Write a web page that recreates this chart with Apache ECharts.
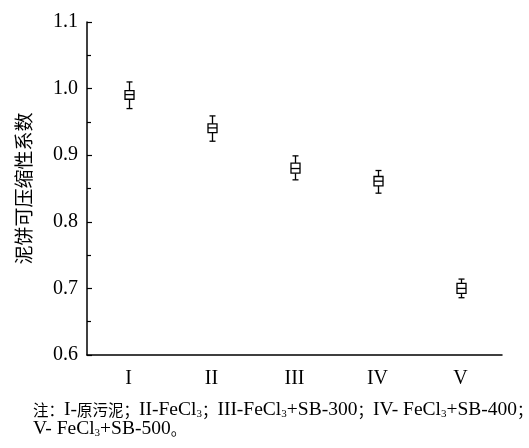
<!DOCTYPE html>
<html>
<head>
<meta charset="utf-8">
<script src="https://cdn.jsdelivr.net/npm/echarts@6/dist/echarts.min.js"></script>
<style>
html,body{margin:0;padding:0;background:#fff;}
#chart{width:529px;height:448px;}
</style>
</head>
<body>
<div id="chart"></div>
<script>
const categories = ['I', 'II', 'III', 'IV', 'V'];
const minVals = [0.970, 0.921, 0.863, 0.843, 0.686];
const q1Vals = [0.984, 0.934, 0.873, 0.854, 0.6925];
const medianVals = [0.991, 0.941, 0.880, 0.861, 0.700];
const q3Vals = [0.997, 0.947, 0.888, 0.868, 0.7075];
const maxVals = [1.010, 0.959, 0.899, 0.877, 0.714];
const yTicks = [0.6, 0.7, 0.8, 0.9, 1.0, 1.1];

const seriesData = categories.map((c, i) => [i, minVals[i], q1Vals[i], medianVals[i], q3Vals[i], maxVals[i]]);

const serif = '"Liberation Serif","Times New Roman","Noto Sans CJK SC",serif';
const cjk = '"Noto Sans CJK SC",sans-serif';

const chart = echarts.init(document.getElementById('chart'), null, {renderer: 'canvas'});

function renderItem(params, api) {
  const x = api.value(0);
  const pMin = api.coord([x, api.value(1)]);
  const pQ1 = api.coord([x, api.value(2)]);
  const pMed = api.coord([x, api.value(3)]);
  const pQ3 = api.coord([x, api.value(4)]);
  const pMax = api.coord([x, api.value(5)]);
  const cx = Math.round(pMed[0]) + 0.5;
  const bw = 4.5, cw = 3;
  const st = {stroke: '#000', lineWidth: 1.3, fill: null};
  return {
    type: 'group',
    children: [
      {type: 'line', shape: {x1: cx, y1: pMax[1], x2: cx, y2: pQ3[1]}, style: st},
      {type: 'line', shape: {x1: cx, y1: pQ1[1], x2: cx, y2: pMin[1]}, style: st},
      {type: 'line', shape: {x1: cx - cw, y1: pMax[1], x2: cx + cw, y2: pMax[1]}, style: st},
      {type: 'line', shape: {x1: cx - cw, y1: pMin[1], x2: cx + cw, y2: pMin[1]}, style: st},
      {type: 'rect', shape: {x: cx - bw, y: pQ3[1], width: bw * 2, height: pQ1[1] - pQ3[1]}, style: {stroke: '#000', lineWidth: 1.3, fill: '#fff'}},
      {type: 'line', shape: {x1: cx - bw, y1: pMed[1], x2: cx + bw, y2: pMed[1]}, style: st}
    ]
  };
}

chart.setOption({
  backgroundColor: '#fff',
  animation: false,
  grid: {left: 87, right: 27, top: 22, bottom: 93},
  xAxis: {
    type: 'category',
    data: categories,
    boundaryGap: true,
    axisLine: {lineStyle: {color: '#000', width: 1.5}},
    axisTick: {alignWithLabel: true, inside: true, length: 5, lineStyle: {color: '#000', width: 1.2}},
    axisLabel: {color: '#000', fontFamily: serif, fontSize: 20, margin: 14},
    splitLine: {show: false}
  },
  yAxis: {
    type: 'value',
    min: yTicks[0],
    max: yTicks[yTicks.length - 1],
    interval: 0.1,
    name: '泥饼可压缩性系数',
    nameLocation: 'middle',
    nameGap: 54,
    nameTextStyle: {color: '#000', fontFamily: cjk, fontSize: 19, fontWeight: 'normal'},
    axisLine: {show: true, lineStyle: {color: '#000', width: 1.5}},
    axisTick: {show: true, inside: true, length: 5, lineStyle: {color: '#000', width: 1.2}},
    minorTick: {show: true, splitNumber: 2, length: 4, lineStyle: {color: '#000', width: 1.2}},
    axisLabel: {color: '#000', fontFamily: serif, fontSize: 20, margin: 9, formatter: v => v.toFixed(1)},
    splitLine: {show: false}
  },
  series: [{
    type: 'custom',
    renderItem: renderItem,
    encode: {x: 0, y: [1, 2, 3, 4, 5]},
    data: seriesData,
    z: 5
  }],
  graphic: [{
    type: 'text',
    left: 33,
    top: 400,
    style: {
      text: '{c|注：}{t|I-}{c|原污泥；}{t|II-FeCl}{s|3}{c|；}{t|III-FeCl}{s|3}{t|+SB-300}{c|；}{t|IV- FeCl}{s|3}{t|+SB-400}{c|；}\n{t|V- FeCl}{s|3}{t|+SB-500}{c|。}',
      rich: {
        t: {fontFamily: serif, fontSize: 19.5, lineHeight: 19, fill: '#000'},
        c: {fontFamily: cjk, fontSize: 15.5, lineHeight: 19, fill: '#000'},
        s: {fontFamily: serif, fontSize: 11, lineHeight: 6, fill: '#000', verticalAlign: 'bottom'}
      }
    }
  }]
});
</script>
</body>
</html>
